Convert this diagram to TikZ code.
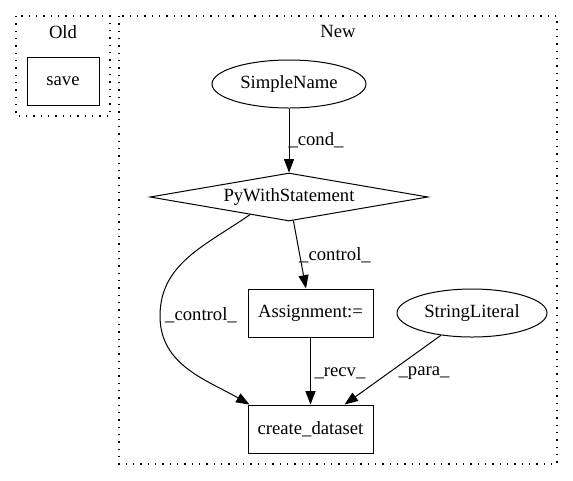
\documentclass[tikz,border=0pt]{standalone}
\usepackage{fontspec}
\setmainfont{Liberation Serif}
\usetikzlibrary{arrows.meta,shapes.geometric,calc}
\begin{document}
\begin{tikzpicture}[x=0.75pt,y=-0.75pt,
  font=\fontsize{14pt}{16pt}\selectfont,
  line width=0.75pt,
  cluster/.style={draw, line width=1pt, dash pattern=on 1pt off 4.5pt},
  boxnode/.style={draw, rectangle, inner sep=0pt, minimum height=36pt, minimum width=#1},
  ellnode/.style={draw, ellipse, inner sep=0pt, minimum height=36pt, minimum width=#1},
  dianode/.style={draw, diamond, aspect=6, inner sep=0pt, minimum height=36pt, minimum width=#1},
  edge/.style={draw, -{Triangle[length=10pt,width=7.5pt]}},
  elabel/.style={inner sep=0pt}
]
\useasboundingbox (0,0) rectangle (573,480);

% clusters
\draw[cluster] (16,16) rectangle (110,116);
\node[elabel] (oldlbl) at (63,32) {Old};
\draw[cluster] (119,16) rectangle (557,464);
\node[elabel] (newlbl) at (338,31) {New};

% nodes
\node[boxnode=54pt] (save) at (63,81) {save};
\node[ellnode=115.5pt] (sn) at (289,84) {SimpleName};
\node[dianode=208.5pt] (dia) at (289,197) {PyWithStatement};
\node[boxnode=93.75pt] (asg) at (310.5,313) {Assignment:=};
\node[ellnode=112.5pt] (sl) at (472,313) {StringLiteral};
\node[boxnode=93.75pt] (cd) at (310.5,429) {create\_dataset};

% edges
\draw[edge] (sn) -- (dia);
\draw[edge] (dia) -- (asg);
\draw[edge] (asg) -- (cd);
\draw[edge] (sl) -- (cd);
\coordinate (dstart) at ($(dia.west)!0.72!(dia.south)$);
\coordinate (bend) at (160,316);
\draw[edge] (dstart) to[out=215,in=90] (bend) to[out=270,in=150] ([xshift=1.5pt]cd.north west);

% edge labels
\node[elabel] (l1) at (316,140) {\_cond\_};
\node[elabel] (l2) at (335,255) {\_control\_};
\node[elabel] (l3) at (201,315) {\_control\_};
\node[elabel] (l4) at (340,373) {\_recv\_};
\node[elabel] (l5) at (424,373) {\_para\_};
\end{tikzpicture}
\end{document}
